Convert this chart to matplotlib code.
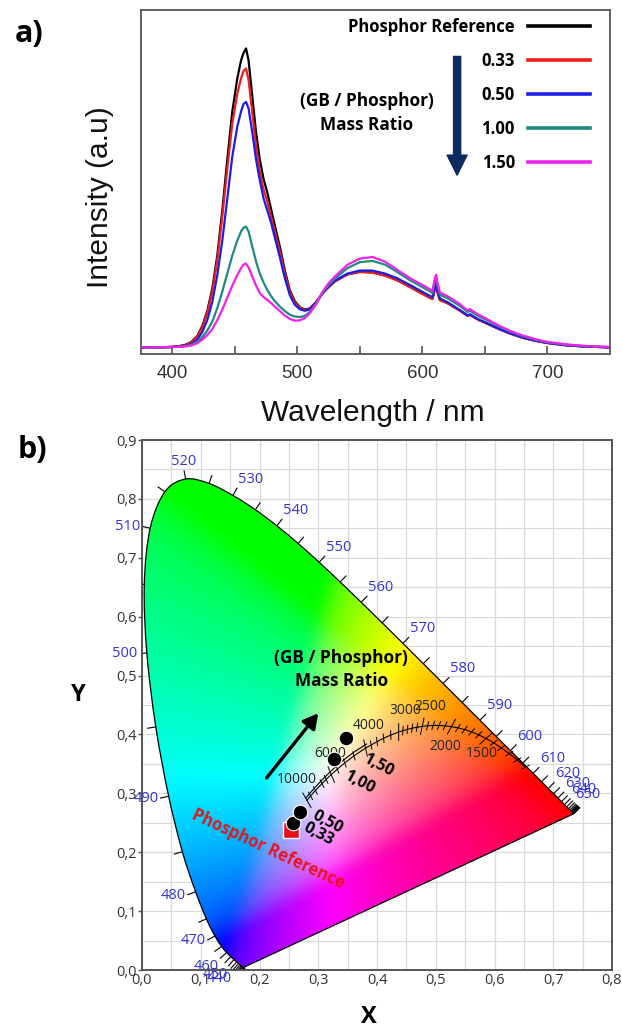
#!/usr/bin/env python3
"""Emission spectra vs GB/phosphor mass ratio (a) and their CIE 1931 chromaticity (b)."""
import numpy as np
import matplotlib
matplotlib.use("Agg")
import matplotlib.pyplot as plt
from matplotlib.path import Path
from matplotlib.patches import PathPatch
from matplotlib.collections import LineCollection

plt.rcParams["font.family"] = ["Open Sans", "DejaVu Sans"]

# ---------------- a) emission spectra, normalised to the reference peak
WAVELENGTH = [375, 390, 400, 405, 410, 415, 420, 424, 428, 432,
              436, 440, 444, 448, 452, 455, 457, 459, 461, 464,
              467, 470, 473, 476, 479, 482, 486, 490, 494, 498,
              502, 506, 510, 515, 520, 525, 530, 540, 550, 560,
              570, 580, 590, 600, 605, 608, 610, 611, 612, 614,
              620, 630, 636, 638, 640, 645, 650, 660, 670, 680,
              690, 700, 715, 730, 750]
I_REF = [.003, .004, .006, .008, .012, .021, .042, .075, .125, .2,
         .31, .46, .63, .79, .9, .96, .985, 1.0, .96, .84,
         .72, .63, .565, .52, .465, .41, .34, .26, .195, .158,
         .138, .13, .134, .155, .183, .205, .224, .247, .256, .254,
         .244, .228, .206, .183, .172, .166, .2, .214, .19, .162,
         .152, .127, .11, .113, .108, .096, .087, .068, .051, .037,
         .027, .019, .011, .007, .004]
I_033 = [.003, .004, .006, .008, .011, .02, .04, .07, .118, .19,
         .295, .44, .6, .75, .85, .9, .925, .933, .895, .785,
         .675, .59, .53, .49, .44, .39, .325, .25, .19, .154,
         .136, .129, .133, .155, .183, .205, .224, .247, .255, .253,
         .243, .227, .205, .182, .171, .165, .198, .212, .188, .161,
         .151, .126, .109, .112, .107, .095, .086, .067, .05, .036,
         .026, .018, .011, .007, .004]
I_050 = [.003, .004, .005, .007, .009, .015, .03, .055, .095, .155,
         .245, .36, .5, .64, .74, .79, .815, .822, .8, .72,
         .63, .56, .5, .46, .42, .37, .305, .235, .178, .146,
         .131, .126, .131, .153, .183, .207, .226, .25, .26, .26,
         .25, .234, .212, .189, .178, .171, .205, .218, .195, .167,
         .155, .128, .111, .114, .109, .097, .088, .068, .051, .037,
         .027, .019, .011, .007, .004]
I_100 = [.003, .004, .005, .006, .008, .012, .023, .038, .06, .09,
         .135, .19, .25, .31, .36, .39, .403, .406, .39, .34,
         .29, .25, .22, .195, .175, .158, .14, .125, .113, .107,
         .105, .109, .122, .15, .185, .212, .233, .268, .288, .292,
         .28, .255, .228, .205, .193, .185, .225, .235, .21, .18,
         .168, .142, .122, .126, .12, .108, .098, .076, .057, .042,
         .03, .021, .013, .008, .005]
I_150 = [.003, .004, .005, .006, .007, .01, .018, .03, .045, .065,
         .095, .13, .17, .21, .245, .268, .28, .283, .27, .24,
         .21, .185, .172, .162, .152, .14, .125, .11, .099, .093,
         .094, .102, .118, .148, .188, .218, .24, .279, .3, .305,
         .29, .262, .235, .212, .2, .192, .235, .246, .22, .187,
         .175, .148, .127, .132, .126, .113, .102, .079, .059, .044,
         .032, .022, .014, .009, .005]
SERIES_LABELS = ["Phosphor Reference", "0.33", "0.50", "1.00", "1.50"]
SERIES_COLORS = ["#000000", "#f01c1c", "#1c1ce8", "#1f8a80", "#f020f0"]

# ---------------- b) CIE 1931 diagram
LOCUS_NM = list(range(380, 705, 5))
LOCUS_X = [0.1741, 0.1740, 0.1738, 0.1736, 0.1733, 0.1730, 0.1726, 0.1721, 0.1714, 0.1703,
           0.1689, 0.1669, 0.1644, 0.1611, 0.1566, 0.1510, 0.1440, 0.1355, 0.1241, 0.1096,
           0.0913, 0.0687, 0.0454, 0.0235, 0.0082, 0.0039, 0.0139, 0.0389, 0.0743, 0.1142,
           0.1547, 0.1929, 0.2296, 0.2658, 0.3016, 0.3373, 0.3731, 0.4087, 0.4441, 0.4788,
           0.5125, 0.5448, 0.5752, 0.6029, 0.6270, 0.6482, 0.6658, 0.6801, 0.6915, 0.7006,
           0.7079, 0.7140, 0.7190, 0.7230, 0.7260, 0.7283, 0.7300, 0.7311, 0.7320, 0.7327,
           0.7334, 0.7340, 0.7344, 0.7346, 0.7347]
LOCUS_Y = [0.0050, 0.0050, 0.0049, 0.0049, 0.0048, 0.0048, 0.0048, 0.0048, 0.0051, 0.0058,
           0.0069, 0.0086, 0.0109, 0.0138, 0.0177, 0.0227, 0.0297, 0.0399, 0.0578, 0.0868,
           0.1327, 0.2007, 0.2950, 0.4127, 0.5384, 0.6548, 0.7502, 0.8120, 0.8338, 0.8262,
           0.8059, 0.7816, 0.7543, 0.7243, 0.6923, 0.6589, 0.6245, 0.5896, 0.5547, 0.5202,
           0.4866, 0.4544, 0.4242, 0.3965, 0.3725, 0.3514, 0.3340, 0.3197, 0.3083, 0.2993,
           0.2920, 0.2859, 0.2809, 0.2770, 0.2740, 0.2717, 0.2700, 0.2689, 0.2680, 0.2673,
           0.2666, 0.2660, 0.2656, 0.2654, 0.2653]
LABEL_NM = list(range(440, 655, 10))

CCT_K = [1000, 1100, 1200, 1300, 1400, 1500, 1600, 1700, 1800, 1900, 2000, 2100, 2200,
         2300, 2400, 2500, 2600, 2700, 2800, 2900, 3000, 3200, 3400, 3600, 3800, 4000,
         4500, 5000, 5500, 6000, 6500, 7000, 8000, 9000, 10000]
CCT_X = [0.6528, 0.6387, 0.6251, 0.6116, 0.5985, 0.5857, 0.5732, 0.5611, 0.5492, 0.5378,
         0.5267, 0.5160, 0.5056, 0.4957, 0.4862, 0.4770, 0.4681, 0.4599, 0.4518, 0.4441,
         0.4369, 0.4234, 0.4112, 0.4001, 0.3900, 0.3805, 0.3608, 0.3451, 0.3325, 0.3221,
         0.3135, 0.3064, 0.2952, 0.2869, 0.2807]
CCT_Y = [0.3444, 0.3565, 0.3674, 0.3771, 0.3858, 0.3931, 0.3993, 0.4043, 0.4082, 0.4112,
         0.4133, 0.4146, 0.4152, 0.4153, 0.4147, 0.4137, 0.4122, 0.4106, 0.4086, 0.4064,
         0.4041, 0.3990, 0.3935, 0.3878, 0.3821, 0.3768, 0.3636, 0.3516, 0.3411, 0.3318,
         0.3237, 0.3166, 0.3048, 0.2956, 0.2883]
DAY_X = [0.3823, 0.3621, 0.3457, 0.3325, 0.3217, 0.3127, 0.3054, 0.2938, 0.2853, 0.2788]
DAY_Y = [0.3838, 0.3709, 0.3587, 0.3476, 0.3378, 0.3290, 0.3216, 0.3092, 0.2996, 0.2920]
CCT_LABELS = [10000, 6000, 4000, 3000, 2500, 2000, 1500]

SAMPLE_RATIO = ["0,33", "0,50", "1,00", "1,50"]
SAMPLE_X = [0.257, 0.269, 0.326, 0.347]
SAMPLE_Y = [0.250, 0.268, 0.358, 0.394]
REF_X, REF_Y = 0.254, 0.238


def blur(a, sigma):
    """Separable gaussian blur of an (h, w, 3) array, to soften the gamut-clipping ridges."""
    r = int(3 * sigma)
    k = np.exp(-0.5 * (np.arange(-r, r + 1) / sigma) ** 2)
    k /= k.sum()
    a = np.pad(a, ((r, r), (r, r), (0, 0)), mode="edge")
    a = np.apply_along_axis(lambda v: np.convolve(v, k, mode="valid"), 0, a)
    return np.apply_along_axis(lambda v: np.convolve(v, k, mode="valid"), 1, a)


fig = plt.figure(figsize=(6.22, 10.29), dpi=100)
W, H = 622, 1029

# ======================= panel a =======================
axa = fig.add_axes([141 / W, 1 - 354 / H, 469 / W, 344 / H])
for vals, lab, col in zip([I_REF, I_033, I_050, I_100, I_150], SERIES_LABELS, SERIES_COLORS):
    axa.plot(WAVELENGTH, vals, color=col, lw=1.6, label=lab)
axa.set_xlim(375, 750)
axa.set_ylim(-0.018, 1.128)
axa.set_xticks([400, 500, 600, 700])
axa.set_xticks([450, 550, 650], minor=True)
axa.set_yticks([])
axa.tick_params(axis="x", which="both", direction="in", length=6, width=1.1, color="#444",
                labelsize=13.5, labelcolor="#333", pad=8, labelfontfamily="Liberation Sans")
for s in axa.spines.values():
    s.set_color("#555"); s.set_linewidth(1.3)

leg = axa.legend(loc="upper right", bbox_to_anchor=(0.957, 0.976), frameon=False,
                 markerfirst=False, handlelength=3.7, handletextpad=0.8, labelspacing=0.96,
                 borderpad=0, borderaxespad=0,
                 prop=dict(family="Open Sans", weight="bold", size=12))
for ln in leg.get_lines():
    ln.set_linewidth(2.6)

axa.annotate("", xy=(0.674, 0.52), xytext=(0.674, 0.865), xycoords="axes fraction",
             arrowprops=dict(arrowstyle="simple,head_length=0.9,head_width=0.9,tail_width=0.32",
                             color="#0d2b5e", mutation_scale=16, shrinkA=0, shrinkB=0))
axa.text(0.482, 0.70, "(GB / Phosphor)\nMass Ratio", transform=axa.transAxes, ha="center",
         va="center", fontsize=12.4, fontweight="bold", linespacing=1.4)

fig.text(100 / W, 1 - 197 / H, "Intensity (a.u)", rotation=90, ha="center", va="center",
         fontsize=21.5, family="Liberation Sans", color="#111")
fig.text(373 / W, 1 - 413 / H, "Wavelength / nm", ha="center", va="center",
         fontsize=21.5, family="Liberation Sans", color="#111")
fig.text(29 / W, 1 - 34 / H, "a)", ha="center", va="center", fontsize=22, fontweight="bold")
fig.text(32 / W, 1 - 450 / H, "b)", ha="center", va="center", fontsize=22, fontweight="bold")

# ======================= panel b =======================
axb = fig.add_axes([142 / W, 1 - 970 / H, 470 / W, 530 / H])
axb.set_xlim(0, 0.8)
axb.set_ylim(0, 0.9)

# chromaticity colours inside the horseshoe
gx, gy = np.meshgrid(np.linspace(0, 0.8, 480), np.linspace(0, 0.9, 540))
gys = np.maximum(gy, 1e-4)
xyz = np.stack([gx / gys, np.ones_like(gx), (1 - gx - gy) / gys], axis=-1)
M = np.array([[3.2406, -1.5372, -0.4986], [-0.9689, 1.8758, 0.0415], [0.0557, -0.2040, 1.0570]])
rgb = np.clip(xyz @ M.T, 0, None)
rgb /= np.maximum(rgb.max(axis=-1, keepdims=True), 1e-9)
rgb = np.where(rgb <= 0.0031308, 12.92 * rgb, 1.055 * rgb ** (1 / 2.4) - 0.055)
rgb = np.clip(blur(rgb, 7), 0, 1)

# smooth outline of the spectral locus (Bezier through the tabulated points) + purple line
lx, ly = np.array(LOCUS_X), np.array(LOCUS_Y)
pts = np.column_stack([lx, ly])
verts, codes = [pts[0]], [Path.MOVETO]
for i in range(len(pts) - 1):
    p0, p1 = pts[max(i - 1, 0)], pts[i]
    p2, p3 = pts[i + 1], pts[min(i + 2, len(pts) - 1)]
    verts += [p1 + (p2 - p0) / 6, p2 - (p3 - p1) / 6, p2]
    codes += [Path.CURVE4] * 3
verts.append(pts[0]); codes.append(Path.CLOSEPOLY)
horseshoe = PathPatch(Path(verts, codes), facecolor="none", edgecolor="black", lw=0.9, zorder=3)
axb.add_patch(horseshoe)
im = axb.imshow(rgb, extent=(0, 0.8, 0, 0.9), origin="lower", aspect="auto",
                interpolation="bilinear", zorder=2)
im.set_clip_path(horseshoe)

# wavelength ticks / labels along the spectral locus
tx, ty = np.gradient(lx), np.gradient(ly)
nrm = np.hypot(tx, ty)
nx, ny = -ty / nrm, tx / nrm
segs = [[(x0, y0), (x0 + 0.015 * a, y0 + 0.015 * b)] for x0, y0, a, b in zip(lx, ly, nx, ny)]
axb.add_collection(LineCollection(segs, colors="black", linewidths=0.8, zorder=3))
for nm in LABEL_NM:
    i = LOCUS_NM.index(nm)
    ha = "left" if nx[i] > 0.3 else ("right" if nx[i] < -0.3 else "center")
    va = "bottom" if ny[i] > 0.5 else ("top" if ny[i] < -0.5 else "center")
    axb.text(lx[i] + 0.017 * nx[i], ly[i] + 0.017 * ny[i], str(nm), ha=ha, va=va,
             fontsize=10.5, color="#3434d6", zorder=4, clip_on=False)

# Planckian + daylight loci with (slanted) isotherm ticks
cx, cy = np.array(CCT_X), np.array(CCT_Y)
axb.plot(cx, cy, color="black", lw=0.8, zorder=4)
axb.plot(DAY_X, DAY_Y, color="black", lw=0.8, zorder=4)
ctx, cty = np.gradient(cx), np.gradient(cy)
cn = np.hypot(ctx, cty)
tilt = np.deg2rad(-20)
cnx0, cny0 = -cty / cn, ctx / cn
cnx = cnx0 * np.cos(tilt) - cny0 * np.sin(tilt)
cny = cnx0 * np.sin(tilt) + cny0 * np.cos(tilt)
iso = []
for k, x0, y0, a, b in zip(CCT_K, cx, cy, cnx, cny):
    h = 0.015 if k in CCT_LABELS else 0.008
    iso.append([(x0 - h * a, y0 - h * b), (x0 + h * a, y0 + h * b)])
axb.add_collection(LineCollection(iso, colors="black", linewidths=0.7, zorder=4))
cct_off = {10000: (-0.017, 0.036), 6000: (-0.002, 0.036), 4000: (0.006, 0.039),
           3000: (0.011, 0.037), 2500: (0.013, 0.034), 2000: (-0.011, -0.034),
           1500: (-0.008, -0.025)}
for k in CCT_LABELS:
    i = CCT_K.index(k)
    dx, dy = cct_off[k]
    axb.text(cx[i] + dx, cy[i] + dy, str(k), ha="center", va="center", fontsize=10,
             color="#222", zorder=4)

# samples
axb.plot(REF_X, REF_Y, "s", color="#e8101a", mec="white", mew=1.0, ms=11, zorder=5)
axb.plot(SAMPLE_X, SAMPLE_Y, "o", color="black", mec="white", mew=0.8, ms=10.5, zorder=6)
lab_off = [(0.044, -0.019), (0.047, -0.017), (0.043, -0.039), (0.055, -0.046)]
for lab, x0, y0, (dx, dy) in zip(SAMPLE_RATIO, SAMPLE_X, SAMPLE_Y, lab_off):
    axb.text(x0 + dx, y0 + dy, lab, rotation=-28, ha="center", va="center", fontsize=11.5,
             fontweight="bold", zorder=6)
axb.text(0.215, 0.205, "Phosphor Reference", rotation=-25, ha="center", va="center",
         fontsize=12, fontweight="bold", color="#e8141e", zorder=6)
axb.annotate("", xy=(0.300, 0.436), xytext=(0.212, 0.326),
             arrowprops=dict(arrowstyle="-|>,head_length=0.55,head_width=0.3", lw=2.4,
                             color="black", mutation_scale=16, shrinkA=0, shrinkB=0), zorder=6)
axb.text(0.339, 0.51, "(GB / Phosphor)\nMass Ratio", ha="center", va="center", fontsize=12.4,
         fontweight="bold", linespacing=1.35, zorder=6)

ticks_x = np.round(np.arange(0, 0.81, 0.1), 2)
ticks_y = np.round(np.arange(0, 0.91, 0.1), 2)
axb.set_xticks(ticks_x, [f"{v:.1f}".replace(".", ",") for v in ticks_x])
axb.set_yticks(ticks_y, [f"{v:.1f}".replace(".", ",") for v in ticks_y])
axb.set_xticks(np.arange(0.05, 0.8, 0.1), minor=True)
axb.set_yticks(np.arange(0.05, 0.9, 0.1), minor=True)
axb.grid(which="both", color="#dadada", lw=0.9, zorder=0)
axb.set_axisbelow(True)
axb.tick_params(axis="both", which="major", length=3, width=1, color="#555",
                labelsize=10.5, labelcolor="#333", pad=1)
axb.tick_params(axis="x", which="major", length=0, pad=2)
axb.tick_params(which="minor", length=0)
for s in axb.spines.values():
    s.set_color("#555"); s.set_linewidth(1.4); s.set_zorder(7)

fig.text(78 / W, 1 - 695 / H, "Y", ha="center", va="center", fontsize=17, fontweight="bold")
fig.text(369 / W, 1 - 1017 / H, "X", ha="center", va="center", fontsize=17, fontweight="bold")

fig.savefig("out.png", dpi=100)
